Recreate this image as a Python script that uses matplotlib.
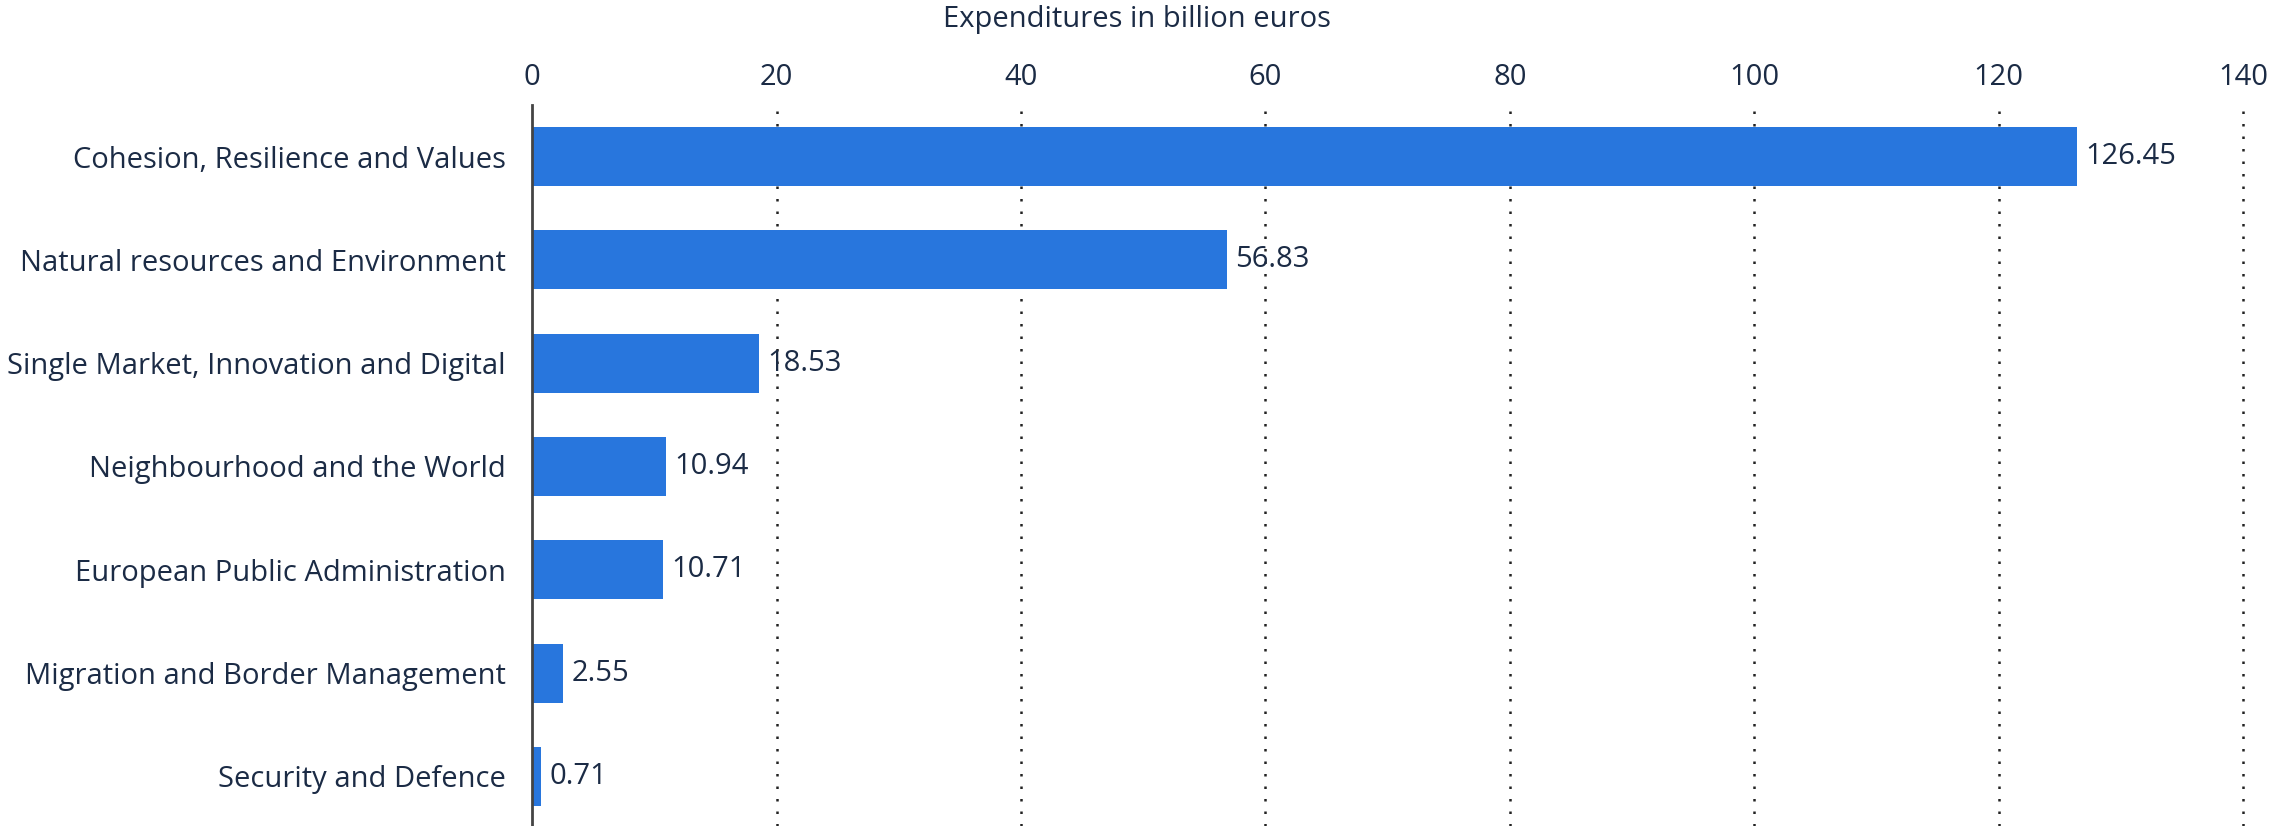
import matplotlib.pyplot as plt
import numpy as np

categories = [
    'Cohesion, Resilience and Values',
    'Natural resources and Environment',
    'Single Market, Innovation and Digital',
    'Neighbourhood and the World',
    'European Public Administration',
    'Migration and Border Management',
    'Security and Defence',
]
values = [126.45, 56.83, 18.53, 10.94, 10.71, 2.55, 0.71]
xticks = [0, 20, 40, 60, 80, 100, 120, 140]

text_color = '#1b2b45'
bar_color = '#2876dd'
fs = 21

plt.rcParams['font.family'] = ['Open Sans', 'DejaVu Sans']

fig = plt.figure(figsize=(22.73, 8.26), dpi=100)
ax = fig.add_axes([0.2341, 0.0, 0.7527, 0.873])

y = np.arange(len(categories))
ax.barh(y, values, height=0.57, color=bar_color, zorder=3)

# value labels right of each bar
for yi, v in zip(y, values):
    ax.annotate(f'{v:.2f}', (v, yi), xytext=(6, 0), textcoords='offset points',
                va='center', ha='left', fontsize=fs, color=text_color, zorder=5)

ax.set_xlim(0, 140)
ax.set_ylim(6.48, -0.5)
ax.set_xticks(xticks)
ax.set_yticks(y)
ax.set_yticklabels(categories)
ax.xaxis.tick_top()
ax.tick_params(axis='both', length=0, labelsize=fs, labelcolor=text_color)
ax.tick_params(axis='x', pad=9)
ax.tick_params(axis='y', pad=19)

fig.text(0.5, 0.976, 'Expenditures in billion euros', ha='center', va='center',
         fontsize=fs, color=text_color)

ax.grid(axis='x', linestyle=(0, (1, 4)), color='#222222', linewidth=1.8, zorder=0)
gl = ax.xaxis.get_gridlines()
gl[0].set_visible(False)
for line in gl:
    line.set_clip_on(False)

for side in ['top', 'right', 'bottom']:
    ax.spines[side].set_visible(False)
ax.spines['left'].set_color('#444444')
ax.spines['left'].set_linewidth(2)
ax.spines['left'].set_zorder(4)

fig.savefig('out.png', dpi=100)
